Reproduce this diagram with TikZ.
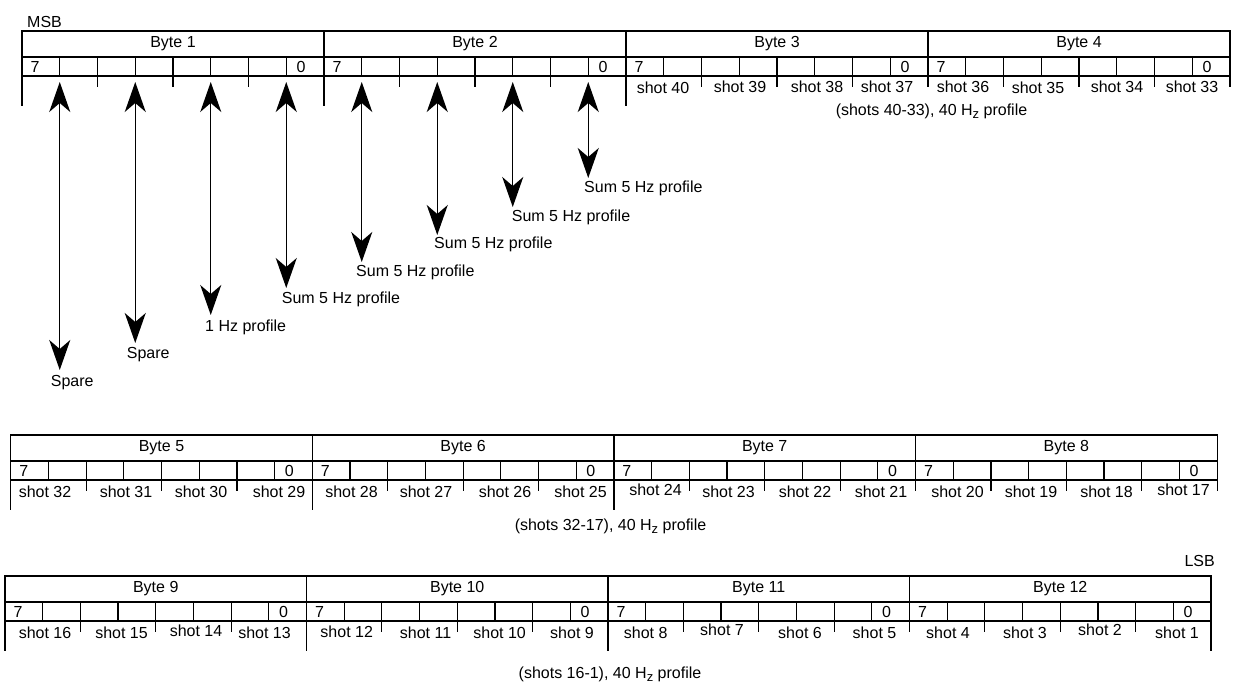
\documentclass[tikz,border=0pt]{standalone}
\usepackage{fontspec}
\setmainfont{Liberation Sans}
\usetikzlibrary{arrows.meta}
\newcommand{\subz}{\raisebox{-3.5pt}{\fontsize{13}{13}\selectfont z}}
\newcommand{\drawbyterow}[5]{%
  \pgfmathsetmacro\xe{#1+4*#3}
  \draw[tbl] (#1,#2) rectangle (\xe,#2+45);
  \draw[tbl] (#1,#2+26) -- (\xe,#2+26);
  \foreach \k in {0,...,3}{
    \pgfmathsetmacro\bx{#1+\k*#3}
    \pgfmathtruncatemacro\bn{#4+\k}
    \draw[tbl] (\bx,#2) -- (\bx,#2+45);
    \foreach \j in {1,...,7}{\draw[tbl] (\bx+\j*#3/8,#2+26) -- ++(0,19);}
    \foreach \j in {2,4,6}{\draw[tbl] (\bx+\j*#3/8,#2+45) -- ++(0,11);}
    \node[lbl] (byte\bn) at (\bx+#3/2,#2+13) {Byte \bn};
    \node[lbl] (seven\bn) at (\bx+13,#2+35.5) {7};
    \node[lbl] (zero\bn) at (\bx+#3-23,#2+35.5) {0};
  }
  \foreach \k in {0,...,4}{\draw[tbl] (#1+\k*#3,#2+45) -- ++(0,11);}
  \foreach \k in {#5}{\draw[tbl] (#1+\k*#3,#2+45) -- ++(0,30);}
}
\begin{document}
\begin{tikzpicture}[x=1pt,y=-1pt,
  font=\fontsize{16}{19}\selectfont,
  tbl/.style={line width=1.2pt},
  lbl/.style={inner sep=0pt},
  tipb/.tip={Stealth[length=30pt,width=21pt,inset=9pt]},
  dbl/.style={line width=1.4pt,{tipb}-{tipb}},
  alab/.style={anchor=west,inner sep=0pt}]
\useasboundingbox (0,0) rectangle (1233,682);

% ---------- row 1 ----------
\node[anchor=west,inner sep=0pt] (msb) at (27,22) {MSB};
\drawbyterow{22}{31}{302}{1}{0,1,2}
\foreach \n/\x/\dy in {40/663/0.5,39/740/0,38/817/0,37/887/0,36/963/-0.5,35/1038/0.5,34/1117/0,33/1192/0}
  \node[lbl] (shot\n) at (\x,87+\dy) {shot \n};
\node[lbl] (cap1) at (931.5,111) {(shots 40-33), 40 H\subz\ profile};

% arrows
\foreach \i/\x/\yb in {1/59.75/370,2/135.25/343,3/210.75/315,4/286.25/288,5/361.75/262,6/437.25/235,7/512.75/207,8/588.25/178}{
  \coordinate (top\i) at (\x,82);
  \coordinate (bot\i) at (\x,\yb);
  \draw[dbl] (top\i) -- (bot\i);
}
\node[alab] (lab1) at (50.7,383) {Spare};
\node[alab] (lab2) at (126.7,355) {Spare};
\node[alab] (lab3) at (205,327) {1 Hz profile};
\node[alab] (lab4) at (281.7,299) {Sum 5 Hz profile};
\node[alab] (lab5) at (356,272) {Sum 5 Hz profile};
\node[alab] (lab6) at (434,244) {Sum 5 Hz profile};
\node[alab] (lab7) at (511.7,217.7) {Sum 5 Hz profile};
\node[alab] (lab8) at (584,188.3) {Sum 5 Hz profile};

% ---------- row 2 ----------
\drawbyterow{10.7}{435}{301.6}{5}{0,1,2}
\foreach \n/\x/\dy in {32/45/0,31/126/0,30/201/0,29/279/0,28/351.5/0,27/426/0,26/505/0,25/580.5/0,
  24/655.5/-1.5,23/728.5/0,22/805/0,21/881/0,20/957.5/0,19/1031/0,18/1106.5/0,17/1183.5/-2}
  \node[lbl] (shot\n) at (\x,491.5+\dy) {shot \n};
\node[lbl] (cap2) at (610.5,526) {(shots 32-17), 40 H\subz\ profile};

% ---------- row 3 ----------
\node[anchor=east,inner sep=0pt] (lsb) at (1215,561) {LSB};
\drawbyterow{5}{576}{301.5}{9}{0,1,2,4}
\foreach \n/\x/\dy in {16/45/0,15/121.5/0,14/196/-1.5,13/264.5/0,12/346.7/-1,11/425.5/0,10/499.6/0,9/572/0,
  8/645.7/0,7/722/-3,6/800/0,5/874.5/0,4/948/0,3/1025/0,2/1100/-3,1/1177/0}
  \node[lbl] (shot\n) at (\x,632.5+\dy) {shot \n};
\node[lbl] (cap3) at (610,674) {(shots 16-1), 40 H\subz\ profile};
\end{tikzpicture}
\end{document}
